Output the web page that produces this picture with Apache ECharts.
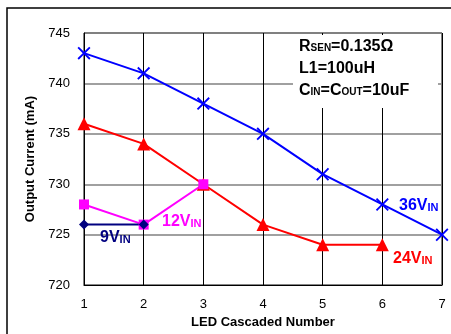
<!doctype html>
<html>
<head>
  <meta charset="utf-8">
  <title>Output Current vs LED Cascaded Number</title>
  <script src="https://cdn.jsdelivr.net/npm/echarts@6/dist/echarts.min.js"></script>
  <style>
    html, body { margin: 0; padding: 0; background: #fff; }
    #main { width: 451px; height: 334px; }
  </style>
</head>
<body>
<div id="main"></div>
<script type="text/javascript">
  // LED 串联数量
  var ledCount = [1, 2, 3, 4, 5, 6, 7];
  var yTicks = [720, 725, 730, 735, 740, 745];
  // 各输入电压下的输出电流 (mA)
  var v36 = [743, 741, 738, 735, 731, 728, 725];
  var v24 = [736, 734, 730, 726, 724, 724];
  var v12 = [728, 726, 730];
  var v9 = [726, 726];

  function pairs(arr) {
    return arr.map(function (v, i) { return [ledCount[i], v]; });
  }

  var crossPath = 'path://M0,1L1,0L5,4L9,0L10,1L6,5L10,9L9,10L5,6L1,10L0,9L4,5Z';
  var fontF = '"Liberation Sans", Arial, sans-serif';

  function vinLabel(num, color, x, y) {
    return {
      type: 'text', left: x, top: y, z: 10,
      style: {
        text: '{a|' + num + 'V}{b|IN}',
        rich: {
          a: { fontSize: 16, fontWeight: 'bold', fill: color, fontFamily: fontF },
          b: { fontSize: 11, fontWeight: 'bold', fill: color, fontFamily: fontF, padding: [4, 0, 0, 0] }
        }
      }
    };
  }

  var option = {
    animation: false,
    backgroundColor: '#fff',
    grid: { left: 84, right: 9, top: 33, bottom: 46, show: true, borderColor: '#000', borderWidth: 1 },
    xAxis: {
      type: 'value', min: 1, max: 7, interval: 1,
      name: 'LED Cascaded Number', nameLocation: 'middle', nameGap: 30,
      nameTextStyle: { fontSize: 13, fontWeight: 'bold', color: '#000', fontFamily: fontF },
      axisLine: { lineStyle: { color: '#000' } },
      axisTick: { show: false },
      axisLabel: { fontSize: 13, color: '#000', margin: 13, fontFamily: fontF },
      splitLine: { show: true, lineStyle: { color: '#000', width: 1 } }
    },
    yAxis: {
      type: 'value', min: yTicks[0], max: yTicks[yTicks.length - 1], interval: 5,
      name: 'Output Current (mA)', nameLocation: 'middle', nameGap: 45,
      nameTextStyle: { fontSize: 13, fontWeight: 'bold', color: '#000', fontFamily: fontF },
      axisLine: { show: true, lineStyle: { color: '#000' } },
      axisTick: { show: false },
      axisLabel: { fontSize: 13, color: '#000', margin: 14, fontFamily: fontF },
      splitLine: { show: true, lineStyle: { color: '#808080', width: 1.5 } }
    },
    graphic: [
      { type: 'rect', shape: { x: 7, y: 8, width: 470, height: 350 }, style: { fill: null, stroke: '#000', lineWidth: 1.5 }, z: 10 },
      { type: 'rect', shape: { x: 293, y: 35, width: 145, height: 73 }, style: { fill: '#fff' }, z: 5 },
      {
        type: 'text', left: 299, top: 39, z: 10,
        style: {
          text: '{a|R}{b|SEN}{a|=0.135Ω}\n{a|L1=100uH}\n{a|C}{b|IN}{a|=C}{b|OUT}{a|=10uF}',
          rich: {
            a: { fontSize: 16, fontWeight: 'bold', fill: '#000', fontFamily: fontF, lineHeight: 22 },
            b: { fontSize: 10, fontWeight: 'bold', fill: '#000', fontFamily: fontF, lineHeight: 22, padding: [3, 0, 0, 0] }
          }
        }
      },
      vinLabel('9', '#000080', 100, 230),
      vinLabel('12', '#FF00FF', 162, 214),
      vinLabel('36', '#0000FF', 399, 198),
      vinLabel('24', '#FF0000', 393, 251)
    ],
    series: [
      {
        name: '36V', type: 'line', data: pairs(v36),
        symbol: crossPath, symbolSize: 13, lineStyle: { color: '#0000FF', width: 2 },
        itemStyle: { color: '#0000FF' }, z: 4
      },
      {
        name: '24V', type: 'line', data: pairs(v24),
        symbol: 'triangle', symbolSize: 13, lineStyle: { color: '#FF0000', width: 2 },
        itemStyle: { color: '#FF0000' }, z: 3
      },
      {
        name: '12V', type: 'line', data: pairs(v12),
        symbol: 'rect', symbolSize: 10, lineStyle: { color: '#FF00FF', width: 2 },
        itemStyle: { color: '#FF00FF' }, z: 3
      },
      {
        name: '9V', type: 'line', data: pairs(v9),
        symbol: 'diamond', symbolSize: 10, lineStyle: { color: '#000080', width: 2 },
        itemStyle: { color: '#000080' }, z: 3
      }
    ]
  };

  var myChart = echarts.init(document.getElementById('main'));
  myChart.setOption(option);
</script>
</body>
</html>
